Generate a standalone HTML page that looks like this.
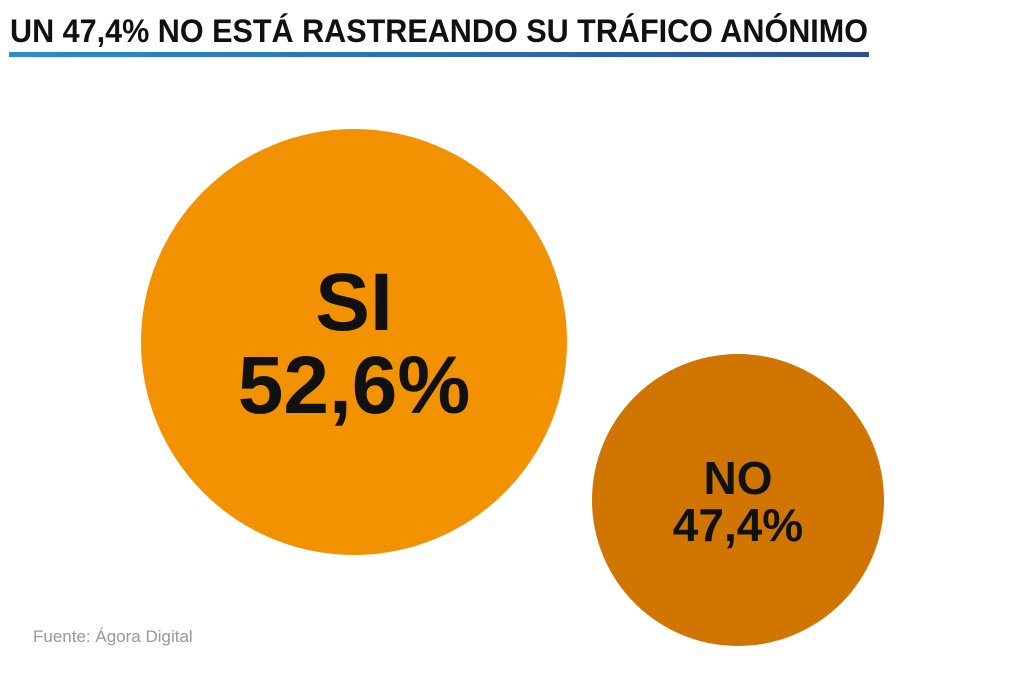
<!DOCTYPE html>
<html><head><meta charset="utf-8"><style>
body{margin:0;width:1012px;height:693px;background:#fff;position:relative;overflow:hidden;font-family:"Liberation Sans",sans-serif}
.t{position:absolute;left:10px;top:13px;font-size:32px;font-weight:bold;color:#111;white-space:nowrap;transform-origin:0 0;transform:scaleX(0.955)}
.bar{position:absolute;left:9px;top:52px;width:860px;height:5px;background:linear-gradient(90deg,#2a8dcd,#2a4f9c)}
.c{position:absolute;border-radius:50%;display:flex;flex-direction:column;align-items:center;justify-content:center;font-weight:bold;color:#111;text-align:center}
.f{position:absolute;left:33px;top:627px;font-size:17px;color:#999}
</style></head><body>
<div class="t">UN 47,4% NO ESTÁ RASTREANDO SU TRÁFICO ANÓNIMO</div>
<div class="bar"></div>
<div class="c" style="left:141px;top:129px;width:426px;height:426px;background:#f39200;font-size:82px;line-height:83px;padding-top:4px;box-sizing:border-box">SI<br>52,6%</div>
<div class="c" style="left:592px;top:354px;width:292px;height:292px;background:#d07600;font-size:46px;line-height:47px;padding-top:4px;box-sizing:border-box">NO<br>47,4%</div>
<div class="f">Fuente: Ágora Digital</div>
</body></html>
